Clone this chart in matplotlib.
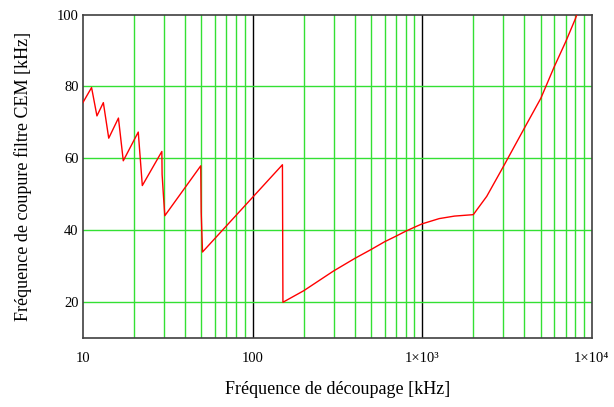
import numpy as np
import matplotlib
matplotlib.use('Agg')
import matplotlib.pyplot as plt
from matplotlib.ticker import FixedLocator, FixedFormatter, NullFormatter

# courbe: frequence de decoupage (kHz) -> coupure filtre CEM (kHz)
freq = [10.0, 11.25, 12.1, 13.2, 14.2, 16.2, 17.3, 21.2, 22.4,
        29.2, 29.3, 29.8, 30.4, 49.5, 49.8, 50.7, 150.0, 151.0,
        200, 300, 400, 500, 600, 700, 800, 900, 1000, 1259, 1549, 2000,
        2400, 3000, 4000, 5000, 6000, 7000, 8000, 8150]
fc = [75.5, 79.7, 71.8, 75.5, 65.6, 71.2, 59.3, 67.3, 52.4,
      61.9, 55.5, 50.0, 44.0, 57.9, 45.0, 33.9, 58.2, 19.9,
      23.1, 28.6, 32.1, 34.6, 36.75, 38.3, 39.7, 40.8, 41.75, 43.2, 43.9, 44.3,
      49.4, 57.6, 68.4, 76.7, 85.5, 92.4, 98.9, 100.0]

xticks = [10, 100, 1000, 10000]
xlabels = ['10', '100', '1×10³', '1×10⁴']
yticks = [20, 40, 60, 80, 100]

plt.rcParams['font.family'] = ['Liberation Serif', 'DejaVu Serif']

fig = plt.figure(figsize=(6.14, 4.07), dpi=100)
ax = fig.add_axes([0.135, 0.17, 0.829, 0.794])

ax.set_xscale('log')
ax.set_xlim(10, 10000)
ax.set_ylim(10, 100)

# grille: decades en noir, le reste en vert
minor = [m * 10**d for d in range(1, 4) for m in range(2, 10)]
for x in minor:
    ax.axvline(x, color='#33e033', lw=1.0, zorder=1)
for x in [100, 1000]:
    ax.axvline(x, color='black', lw=1.0, zorder=1)
for y in [20, 40, 60, 80]:
    ax.axhline(y, color='#33e033', lw=1.0, zorder=1)

ax.plot(freq, fc, color='#ff0000', lw=1.0, zorder=3)

ax.xaxis.set_major_locator(FixedLocator(xticks))
ax.xaxis.set_major_formatter(FixedFormatter(xlabels))
ax.xaxis.set_minor_locator(FixedLocator(minor))
ax.xaxis.set_minor_formatter(NullFormatter())
ax.set_yticks(yticks)
ax.tick_params(axis='both', which='both', length=0, labelsize=10.5)
ax.tick_params(axis='x', pad=10)
ax.tick_params(axis='y', pad=3)

for s in ax.spines.values():
    s.set_color('#404040')
    s.set_linewidth(1.2)

ax.set_xlabel('Fréquence de découpage [kHz]', fontsize=13, labelpad=12)
ax.set_ylabel('Fréquence de coupure filtre CEM [kHz]', fontsize=13, labelpad=18)

fig.savefig('out.png', dpi=100)
